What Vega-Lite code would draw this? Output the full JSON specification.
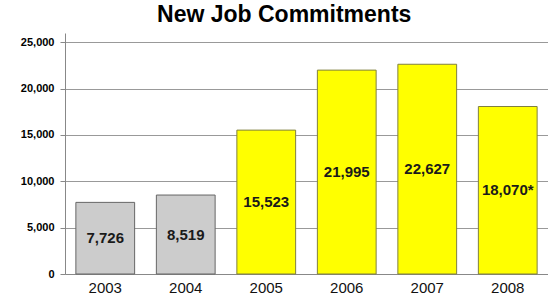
{
  "$schema": "https://vega.github.io/schema/vega-lite/v6.json",
  "autosize": "none",
  "width": 483,
  "height": 241,
  "padding": {"left": 65, "top": 33, "right": 0, "bottom": 24},
  "background": "white",
  "title": {"text": "New Job Commitments", "fontSize": 23, "fontWeight": "bold", "font": "Liberation Sans", "color": "black", "anchor": "middle", "frame": "bounds", "offset": 6},
  "data": {"values": [
    {"year": "2003", "jobs": 7726, "label": "7,726", "kind": "past"},
    {"year": "2004", "jobs": 8519, "label": "8,519", "kind": "past"},
    {"year": "2005", "jobs": 15523, "label": "15,523", "kind": "recent"},
    {"year": "2006", "jobs": 21995, "label": "21,995", "kind": "recent"},
    {"year": "2007", "jobs": 22627, "label": "22,627", "kind": "recent"},
    {"year": "2008", "jobs": 18070, "label": "18,070*", "kind": "recent"}
  ]},
  "encoding": {
    "x": {"field": "year", "type": "nominal", "scale": {"paddingInner": 0.27, "paddingOuter": 0.135},
      "axis": {"title": null, "labelAngle": 0, "labelFont": "Liberation Sans", "labelFontSize": 15, "labelColor": "#111", "ticks": false, "domainColor": "#888", "labelPadding": 6}}
  },
  "layer": [
    {
      "mark": {"type": "bar", "strokeWidth": 1},
      "encoding": {
        "y": {"field": "jobs", "type": "quantitative", "scale": {"domain": [0, 25000]},
          "axis": {"title": null, "values": [0, 5000, 10000, 15000, 20000, 25000], "format": ",.0f", "labelFont": "Liberation Sans", "labelFontSize": 11, "labelFontWeight": "bold", "labelColor": "black", "tickSize": 5, "tickColor": "#888", "domainColor": "#888", "gridColor": "#999", "gridOpacity": 1, "labelPadding": 6}},
        "fill": {"field": "kind", "type": "nominal", "scale": {"domain": ["past", "recent"], "range": ["#cccccc", "#ffff00"]}, "legend": null},
        "stroke": {"field": "kind", "type": "nominal", "scale": {"domain": ["past", "recent"], "range": ["#666666", "#808040"]}, "legend": null}
      }
    },
    {
      "transform": [{"calculate": "datum.jobs / 2", "as": "mid"}],
      "mark": {"type": "text", "font": "Liberation Sans", "fontSize": 15, "fontWeight": "bold", "color": "#1a1a1a"},
      "encoding": {
        "y": {"field": "mid", "type": "quantitative"},
        "text": {"field": "label"}
      }
    }
  ],
  "config": {"view": {"stroke": null}}
}
